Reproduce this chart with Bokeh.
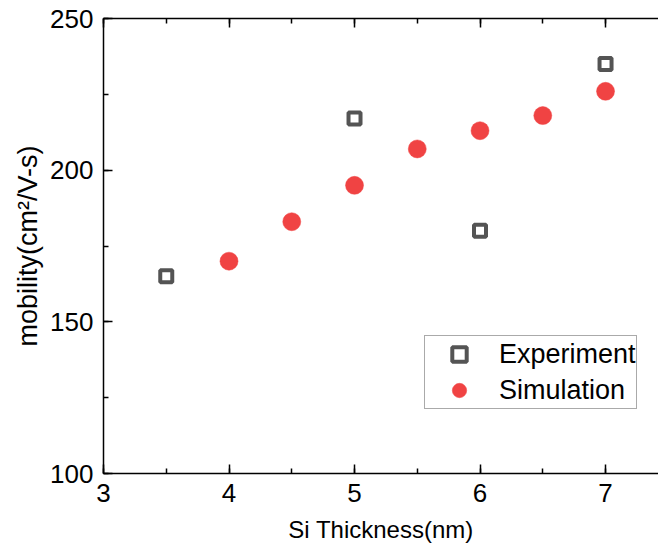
from bokeh.plotting import figure
from bokeh.models import (Range1d, LinearAxis, SingleIntervalTicker, Legend, LegendItem)
from bokeh.embed import file_html
from bokeh.resources import INLINE

# Data
exp_x = [3.5, 5.0, 6.0, 7.0]
exp_y = [165, 217, 180, 235]
sim_x = [4.0, 4.5, 5.0, 5.5, 6.0, 6.5, 7.0]
sim_y = [170, 183, 195, 207, 213, 218, 226]

x_label = "Si Thickness(nm)"
y_label = "mobility(cm\u00b2/V-s)"

FONT = "Liberation Sans"

p = figure(width=658, height=554, output_backend="svg", toolbar_location=None,
           x_range=Range1d(3, 7.422), y_range=Range1d(100, 250),
           x_axis_location=None, y_axis_location=None,
           min_border_left=103, min_border_right=0, min_border_top=18, min_border_bottom=81)
p.outline_line_color = None
p.xgrid.visible = False
p.ygrid.visible = False
p.background_fill_color = "white"
p.border_fill_color = "white"

def style_axis(ax, labels=True):
    ax.axis_line_color = "black"
    ax.axis_line_width = 1.5
    ax.major_tick_in = 9
    ax.major_tick_out = 0
    ax.minor_tick_in = 5
    ax.minor_tick_out = 0
    ax.major_tick_line_color = "black"
    ax.minor_tick_line_color = "black"
    ax.major_tick_line_width = 1.5
    ax.minor_tick_line_width = 1.5
    ax.major_label_text_font = FONT
    ax.major_label_text_font_size = "26px"
    ax.major_label_text_color = "black" if labels else None
    ax.axis_label_text_font = FONT
    ax.axis_label_text_font_style = "normal"
    ax.axis_label_text_color = "black"

xb = LinearAxis(ticker=SingleIntervalTicker(interval=1, num_minor_ticks=2), axis_label=x_label)
style_axis(xb)
xb.axis_label_text_font_size = "24px"
xb.major_label_standoff = 10
xb.axis_label_standoff = 11
p.add_layout(xb, "below")

xt = LinearAxis(ticker=SingleIntervalTicker(interval=1, num_minor_ticks=2))
style_axis(xt, labels=False)
xt.major_label_standoff = 0
p.add_layout(xt, "above")

yl = LinearAxis(ticker=SingleIntervalTicker(interval=50, num_minor_ticks=2), axis_label=y_label)
style_axis(yl)
yl.axis_label_text_font_size = "27px"
yl.major_label_standoff = 10
yl.axis_label_standoff = 4
p.add_layout(yl, "left")

r_exp = p.scatter(exp_x, exp_y, marker="square", size=12, line_width=4,
                  line_color="#545454", fill_color="white")
r_sim = p.scatter(sim_x, sim_y, marker="circle", size=18,
                  line_color="#F04343", fill_color="#F04343", line_width=0.5)

legend = Legend(items=[LegendItem(label="Experiment", renderers=[r_exp]),
                       LegendItem(label="Simulation", renderers=[r_sim])],
                location=(321, 64))
legend.border_line_color = "#555555"
legend.border_line_width = 1.5
legend.background_fill_color = "white"
legend.padding = 0
legend.spacing = 0
legend.margin = 0
legend.glyph_width = 68
legend.glyph_height = 36
legend.label_height = 35
legend.label_standoff = 6
legend.label_text_font = FONT
legend.label_text_font_size = "27px"
legend.label_text_color = "black"
legend.label_text_baseline = "middle"
p.add_layout(legend, "center")

open("out.html", "w").write(file_html(p, INLINE))
